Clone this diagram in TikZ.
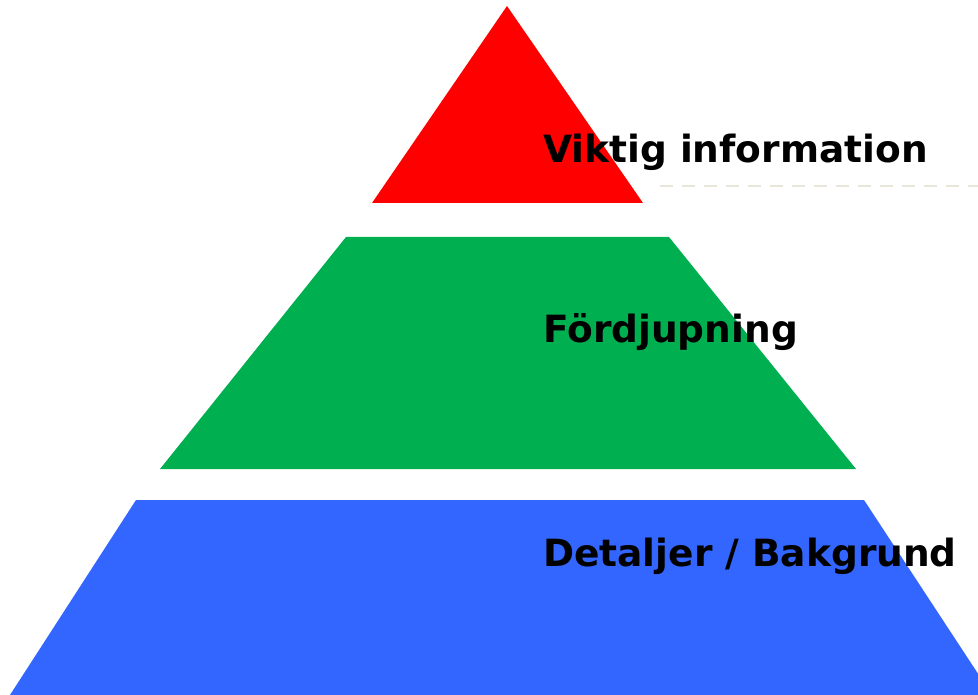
\documentclass[tikz,border=0pt]{standalone}
\usepackage{fontspec}
\setmainfont{DejaVu Sans}
\begin{document}
\begin{tikzpicture}[x=1pt,y=-1pt,
  lbl/.style={anchor=base west,inner sep=0pt,font=\bfseries\fontsize{37.5}{40}\selectfont,text=black}]
\useasboundingbox (0,0) rectangle (978,695);
\begin{scope}
\clip (0,0) rectangle (978,695);
\fill[red] (507,6) -- (643,203) -- (372,203) -- cycle;
\fill[fill={rgb,255:red,0;green,176;blue,80}] (346,237) -- (669,237) -- (856,469) -- (160,469) -- cycle;
\fill[fill={rgb,255:red,51;green,102;blue,255}] (136,500) -- (864,500) -- (992,695) -- (10,695) -- cycle;
\coordinate (d1) at (660,186);
\coordinate (d2) at (978,186);
\draw[draw={rgb,255:red,232;green,230;blue,216},line width=2.5pt,dash pattern=on 13pt off 9pt] (d1) -- (d2);
\end{scope}
\node[lbl] (t1) at (543,163) {Viktig information};
\node[lbl] (t2) at (543,342) {Fördjupning};
\node[lbl] (t3) at (543,566) {Detaljer / Bakgrund};
\end{tikzpicture}
\end{document}
